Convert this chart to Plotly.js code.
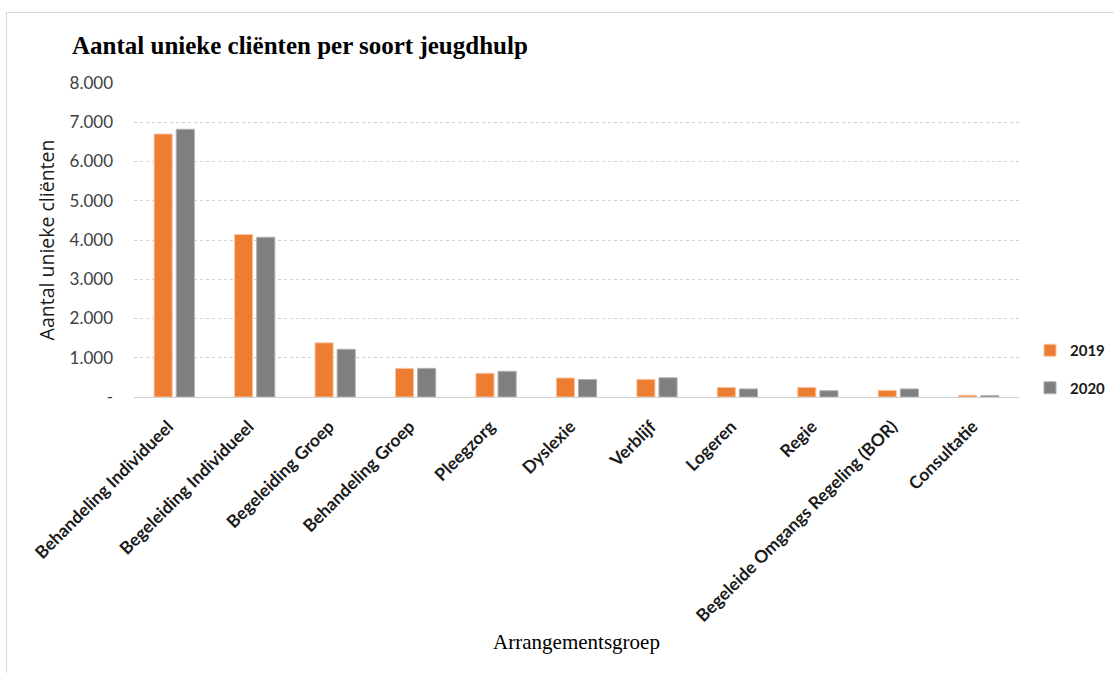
<!DOCTYPE html>
<html>
<head>
<meta charset="utf-8">
<script src="https://cdn.plot.ly/plotly-3.0.1.min.js"></script>
<style>
  html, body { margin: 0; padding: 0; background: #fff; }
  #wrap { position: relative; width: 1114px; height: 673px; overflow: hidden; }
  #frame { position: absolute; left: 6px; top: 12px; right: -2px; bottom: -2px; border: 1px solid #d9d9d9; pointer-events: none; }
  #chart { position: absolute; left: 0; top: 0; width: 1114px; height: 673px; }
</style>
</head>
<body>
<div id="wrap">
  <div id="chart"></div>
  <div id="frame"></div>
</div>
<script>
const categories = [
  "Behandeling Individueel",
  "Begeleiding Individueel",
  "Begeleiding Groep",
  "Behandeling Groep",
  "Pleegzorg",
  "Dyslexie",
  "Verblijf",
  "Logeren",
  "Regie",
  "Begeleide Omgangs Regeling (BOR)",
  "Consultatie"
];
const values2019 = [6700, 4140, 1380, 730, 605, 485, 450, 245, 245, 170, 45];
const values2020 = [6820, 4070, 1215, 730, 655, 445, 490, 205, 160, 205, 35];
const yTickVals = [0, 1000, 2000, 3000, 4000, 5000, 6000, 7000, 8000];
const yTickText = ["-", "1.000", "2.000", "3.000", "4.000", "5.000", "6.000", "7.000", "8.000"];

const sansFont = "Lato, 'Open Sans', sans-serif";
const wideSans = "'Open Sans', Lato, sans-serif";
const serifFont = "'Liberation Serif', 'DejaVu Serif', serif";

const traces = [
  {
    type: "bar", name: "2019", x: categories, y: values2019, legendgroup: "a",
    marker: { color: "#ED7D31", line: { color: "#F8C7A6", width: 1 } },
    hoverinfo: "x+y"
  },
  {
    type: "bar", name: "2020", x: categories, y: values2020, legendgroup: "b",
    marker: { color: "#7F7F7F", line: { color: "#B0B0B0", width: 1 } },
    hoverinfo: "x+y"
  }
];

const layout = {
  width: 1114, height: 673,
  margin: { l: 134, r: 95, t: 83, b: 276 },
  paper_bgcolor: "rgba(0,0,0,0)",
  plot_bgcolor: "#fff",
  barmode: "group",
  bargap: 0.45,
  bargroupgap: 0.18,
  title: {
    text: "Aantal unieke cliënten per soort jeugdhulp",
    font: { family: serifFont, size: 25, color: "#000", weight: "bold" },
    xref: "container", yref: "container",
    x: 72 / 1114, xanchor: "left",
    y: 1 - 45 / 673, yanchor: "middle"
  },
  xaxis: {
    type: "category",
    tickangle: -45,
    tickfont: { family: sansFont, size: 17.5, color: "#1a1a1a", weight: "bold" },
    showline: false, showgrid: false, ticks: "",
    ticklabelshift: -6, ticklabelstandoff: 15,
    title: {
      text: "Arrangementsgroep",
      font: { family: serifFont, size: 21, color: "#000" },
      standoff: 9
    }
  },
  yaxis: {
    range: [0, 8000],
    tickvals: yTickVals, ticktext: yTickText,
    tickfont: { family: sansFont, size: 17, color: "#404040" },
    showgrid: true, gridcolor: "#d0d0d0", gridwidth: 1, griddash: "dot",
    zeroline: true, zerolinecolor: "#d0d0d0", zerolinewidth: 1,
    showline: false, ticks: "", ticklabelstandoff: 20,
    title: {
      text: "Aantal unieke cliënten",
      font: { family: wideSans, size: 19.5, color: "#1a1a1a" },
      standoff: 9
    }
  },
  legend: {
    xref: "container", yref: "container",
    x: 1030 / 1114, xanchor: "left",
    y: 1 - 334 / 673, yanchor: "top",
    font: { family: sansFont, size: 15, color: "#1a1a1a", weight: "bold" },
    itemwidth: 30, tracegroupgap: 15,
    bgcolor: "rgba(0,0,0,0)"
  },
  showlegend: true
};

Plotly.newPlot("chart", traces, layout, { displayModeBar: false, staticPlot: true });
</script>
</body>
</html>
